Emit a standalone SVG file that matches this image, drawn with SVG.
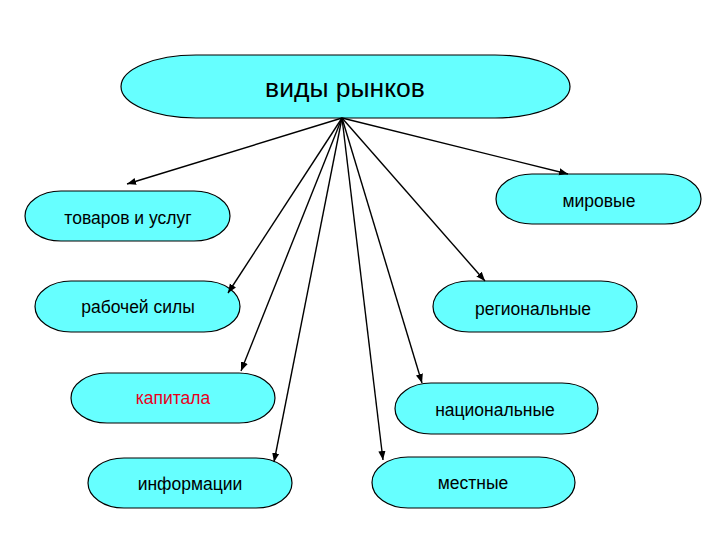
<svg xmlns="http://www.w3.org/2000/svg" width="720" height="540" viewBox="0 0 720 540">
<style>
.n{fill:#66ffff;stroke:#000;stroke-width:1.2}
.t{font-family:"Liberation Sans",Arial,sans-serif;font-size:17.5px;fill:#000;text-anchor:middle}
.c line{stroke:#000;stroke-width:1.4;marker-end:url(#a)}
</style>
<defs>
<marker id="a" viewBox="0 0 10 10" refX="10" refY="5" markerWidth="9" markerHeight="9" markerUnits="userSpaceOnUse" orient="auto">
<path d="M0,1 L10,5 L0,9 Z" fill="#000"/>
</marker>
</defs>
<rect width="720" height="540" fill="#fff"/>
<g id="root"><rect class="n" x="121" y="55" width="449" height="63" rx="75" ry="31.5"/><text class="t" x="345" y="97" style="font-size:26.5px">виды рынков</text></g>
<g id="tovarov"><rect class="n" x="25" y="191" width="205" height="50" rx="36" ry="25"/><text class="t" x="128" y="224">товаров и услуг</text></g>
<g id="mirovye"><rect class="n" x="496" y="174" width="205" height="50" rx="36" ry="25"/><text class="t" x="599" y="207">мировые</text></g>
<g id="rabochey"><rect class="n" x="35" y="281" width="205" height="51" rx="36" ry="25.5"/><text class="t" x="138" y="313">рабочей силы</text></g>
<g id="regionalnye"><rect class="n" x="433" y="281" width="204" height="51" rx="36" ry="25.5"/><text class="t" x="533" y="315">региональные</text></g>
<g id="kapitala"><rect class="n" x="71" y="373" width="204" height="50" rx="36" ry="25"/><text class="t" x="173" y="404" style="fill:#e8001c">капитала</text></g>
<g id="nacionalnye"><rect class="n" x="395" y="383" width="203" height="51" rx="36" ry="25.5"/><text class="t" x="495" y="416">национальные</text></g>
<g id="informacii"><rect class="n" x="88" y="458" width="204" height="50" rx="36" ry="25"/><text class="t" x="190" y="490">информации</text></g>
<g id="mestnye"><rect class="n" x="372" y="457" width="203" height="51" rx="36" ry="25.5"/><text class="t" x="473" y="489">местные</text></g>
<g class="c" id="connectors">
<line x1="342" y1="118" x2="127" y2="184"/>
<line x1="342" y1="118" x2="568" y2="174"/>
<line x1="342" y1="118" x2="228" y2="293"/>
<line x1="342" y1="118" x2="485" y2="281"/>
<line x1="342" y1="118" x2="241" y2="371"/>
<line x1="342" y1="118" x2="422" y2="383"/>
<line x1="342" y1="118" x2="274" y2="462"/>
<line x1="342" y1="118" x2="383" y2="460"/>
</g>
</svg>
